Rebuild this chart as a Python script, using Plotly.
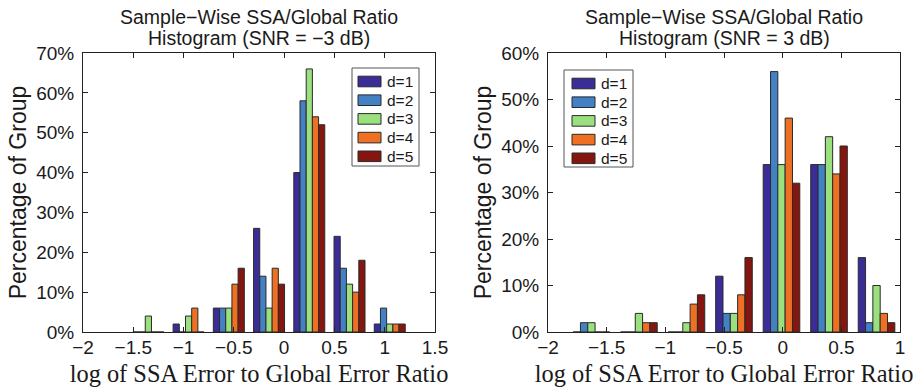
import plotly.graph_objects as go

# ---- data ----
series_names = ["d=1", "d=2", "d=3", "d=4", "d=5"]
colors = ["#3b2d97", "#4381c4", "#9be07e", "#ef7022", "#85160f"]

left_centers = [-1.35, -0.95, -0.55, -0.15, 0.25, 0.65, 1.05]
left_values = {
    "d=1": [0, 2, 6, 26, 40, 24, 2],
    "d=2": [0, 0, 6, 14, 58, 16, 6],
    "d=3": [4, 4, 6, 6, 66, 12, 2],
    "d=4": [0, 6, 12, 16, 54, 10, 2],
    "d=5": [0, 0, 16, 12, 52, 18, 2],
}

right_centers = [-1.63, -1.225, -0.82, -0.415, -0.01, 0.395, 0.80]
right_values = {
    "d=1": [0, 0, 0, 12, 36, 36, 16],
    "d=2": [2, 0, 0, 4, 56, 36, 2],
    "d=3": [2, 4, 2, 4, 36, 42, 10],
    "d=4": [0, 2, 6, 8, 46, 34, 4],
    "d=5": [0, 2, 8, 16, 32, 40, 2],
}

left_title = "Sample\u2212Wise SSA/Global Ratio"
left_title2 = "Histogram (SNR = \u22123 dB)"
right_title = "Sample\u2212Wise SSA/Global Ratio"
right_title2 = "Histogram (SNR = 3 dB)"
x_label = "log of SSA Error to Global Error Ratio"
y_label = "Percentage of Group"

left_yticks = [0, 10, 20, 30, 40, 50, 60, 70]
right_yticks = [0, 10, 20, 30, 40, 50, 60]
left_xticks = [-2, -1.5, -1, -0.5, 0, 0.5, 1, 1.5]
right_xticks = [-2, -1.5, -1, -0.5, 0, 0.5, 1]

# ---- figure ----
W, H = 916, 391
fig = go.Figure()

for name, col in zip(series_names, colors):
    fig.add_trace(go.Bar(
        x=left_centers, y=left_values[name], name=name, showlegend=False,
        marker=dict(color=col, line=dict(color="#2a2a2a", width=1)),
        xaxis="x", yaxis="y",
    ))
for name, col in zip(series_names, colors):
    fig.add_trace(go.Bar(
        x=right_centers, y=right_values[name], name=name, showlegend=False,
        marker=dict(color=col, line=dict(color="#2a2a2a", width=1)),
        xaxis="x2", yaxis="y2",
    ))

sans = "Liberation Sans, Arial, sans-serif"
serif = "Liberation Serif, Times New Roman, serif"
ink = "#1a1a1a"
tickfont = dict(family=sans, size=19, color=ink)

def px_x(p):
    return p / W

def px_y(p):
    return 1 - p / H

axis_common = dict(
    showline=True, linecolor="#222", linewidth=1, mirror="ticks",
    ticks="inside", ticklen=5, tickcolor="#222", tickwidth=1,
    showgrid=False, zeroline=False, tickfont=tickfont, automargin=False,
)

L0, L1 = 83, 435
R0, R1 = 548, 900
T, B = 53, 332

def pct(v):
    return [f"{t}%" for t in v]

xtitle_font = dict(family=serif, size=24.4, color=ink)
ytitle_font = dict(family=sans, size=23, color=ink)

fig.update_layout(
    width=W, height=H,
    margin=dict(l=0, r=0, t=0, b=0),
    paper_bgcolor="white", plot_bgcolor="white",
    barmode="group", bargap=0.23, bargroupgap=0,
    showlegend=False,
    xaxis=dict(domain=[px_x(L0), px_x(L1)], range=[-2, 1.5], anchor="y",
               tickvals=left_xticks, ticklabelstandoff=-2,
               title=dict(text=x_label, font=xtitle_font, standoff=8),
               **axis_common),
    yaxis=dict(domain=[px_y(B), px_y(T)], range=[0, 70], anchor="x",
               tickvals=left_yticks, ticktext=pct(left_yticks), ticklabelstandoff=4,
               title=dict(text=y_label, font=ytitle_font, standoff=3),
               **axis_common),
    xaxis2=dict(domain=[px_x(R0), px_x(R1)], range=[-2, 1], anchor="y2",
                tickvals=right_xticks, ticklabelstandoff=-2,
                title=dict(text=x_label, font=xtitle_font, standoff=8),
                **axis_common),
    yaxis2=dict(domain=[px_y(B), px_y(T)], range=[0, 60], anchor="x2",
                tickvals=right_yticks, ticktext=pct(right_yticks), ticklabelstandoff=4,
                title=dict(text=y_label, font=ytitle_font, standoff=3),
                **axis_common),
)

# ---- titles ----
title_font = dict(family=sans, size=19.5, color=ink)
for cx, t1, t2 in [((L0 + L1) / 2, left_title, left_title2),
                   ((R0 + R1) / 2, right_title, right_title2)]:
    fig.add_annotation(x=px_x(cx), y=px_y(17), xref="paper", yref="paper",
                       text=t1, showarrow=False, font=title_font,
                       xanchor="center", yanchor="middle")
    fig.add_annotation(x=px_x(cx), y=px_y(38), xref="paper", yref="paper",
                       text=t2, showarrow=False, font=title_font,
                       xanchor="center", yanchor="middle")

# ---- legends (boxed, wide swatches like the original) ----
legend_font = dict(family=sans, size=15.5, color=ink)
row_h = 18.7
for (bx0, by0, bx1, by1, sx0, tx) in [(352, 68, 419, 166, 358, 385),
                                       (564, 70, 633, 167, 572, 599)]:
    fig.add_shape(type="rect", xref="paper", yref="paper",
                  x0=px_x(bx0), x1=px_x(bx1), y0=px_y(by1), y1=px_y(by0),
                  line=dict(color="#555", width=1), fillcolor="white", layer="above")
    for i, (name, col) in enumerate(zip(series_names, colors)):
        cy = by0 + 13.5 + i * row_h
        fig.add_shape(type="rect", xref="paper", yref="paper",
                      x0=px_x(sx0), x1=px_x(sx0 + 23), y0=px_y(cy + 5.3), y1=px_y(cy - 5.3),
                      line=dict(color="#2a2a2a", width=1), fillcolor=col, layer="above")
        fig.add_annotation(x=px_x(tx), y=px_y(cy), xref="paper", yref="paper",
                           text=name, showarrow=False, font=legend_font,
                           xanchor="left", yanchor="middle")

fig.write_html("out.html")
